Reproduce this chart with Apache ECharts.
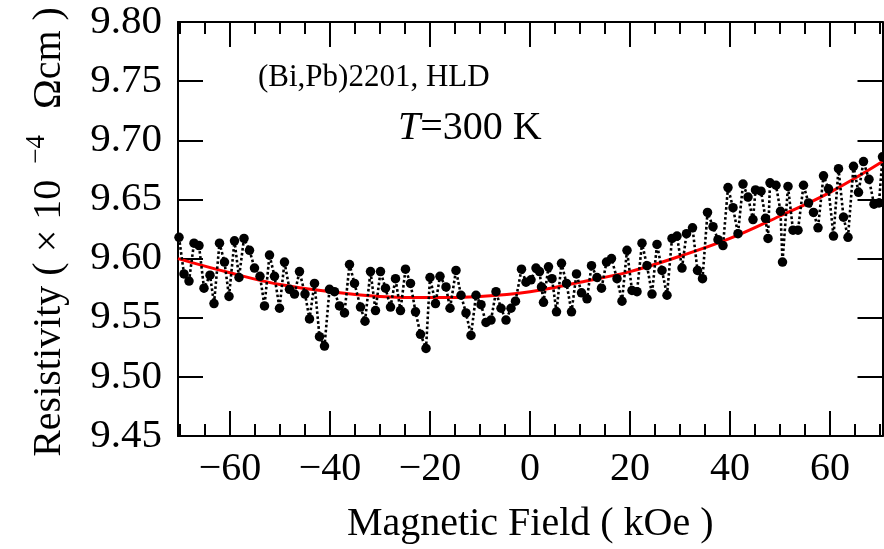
<!DOCTYPE html>
<html><head><meta charset="utf-8">
<script src="https://cdn.jsdelivr.net/npm/echarts@6/dist/echarts.min.js"></script>
<style>html,body{margin:0;padding:0;background:#fff}#c{width:884px;height:549px}</style>
</head><body><div id="c"></div>
<script>
const field = [-70.2,-69.2,-68.2,-67.2,-66.2,-65.2,-64.0,-63.2,-62.1,-61.1,
-60.2,-59.1,-58.2,-57.2,-56.1,-55.1,-54.0,-53.1,-52.1,-51.1,
-50.1,-49.1,-48.1,-47.1,-46.1,-45.0,-44.1,-43.1,-42.1,-41.1,
-40.1,-39.1,-38.1,-37.1,-36.1,-35.1,-33.9,-33.0,-31.9,-30.9,
-29.9,-28.9,-27.9,-26.9,-25.9,-24.9,-23.9,-22.9,-21.9,-20.8,
-20.0,-18.9,-18.0,-16.8,-16.0,-14.8,-13.8,-12.8,-11.8,-10.8,
-9.8,-8.8,-7.8,-6.8,-5.8,-4.8,-3.8,-2.9,-1.7,-0.8,
0.2,1.2,1.9,2.3,2.7,3.7,4.4,5.3,6.3,7.3,
8.3,9.3,10.3,11.4,12.3,13.4,14.3,15.3,16.3,17.4,
18.4,19.4,20.4,21.4,22.4,23.4,24.4,25.4,26.4,27.4,
28.4,29.4,30.4,31.3,32.5,33.5,34.5,35.5,36.6,37.6,
38.6,39.6,40.6,41.6,42.6,43.6,44.6,45.1,46.2,47.1,
47.6,48.0,49.2,50.1,50.5,51.6,52.6,53.6,54.7,55.7,
56.7,57.6,58.7,59.7,60.7,61.7,62.7,63.6,64.7,65.7,
66.7,67.8,68.8,69.8,70.5];
const resistivity = [9.618,9.587,9.581,9.613,9.611,9.575,9.586,9.562,9.613,9.597,
9.568,9.615,9.584,9.617,9.607,9.592,9.585,9.560,9.603,9.585,
9.558,9.597,9.574,9.570,9.589,9.570,9.549,9.579,9.534,9.526,
9.574,9.572,9.560,9.554,9.595,9.579,9.559,9.547,9.589,9.556,
9.589,9.575,9.559,9.583,9.556,9.591,9.579,9.555,9.536,9.524,
9.584,9.562,9.585,9.576,9.558,9.590,9.569,9.554,9.535,9.569,
9.561,9.546,9.548,9.572,9.558,9.548,9.558,9.564,9.591,9.580,
9.582,9.592,9.589,9.576,9.563,9.593,9.583,9.555,9.596,9.579,
9.555,9.587,9.571,9.566,9.594,9.584,9.575,9.597,9.600,9.583,
9.564,9.607,9.573,9.572,9.613,9.594,9.570,9.612,9.590,9.569,
9.617,9.619,9.592,9.621,9.626,9.590,9.583,9.639,9.627,9.616,
9.611,9.660,9.643,9.621,9.663,9.652,9.633,9.658,9.657,9.634,
9.617,9.664,9.662,9.640,9.597,9.661,9.624,9.624,9.662,9.647,
9.639,9.626,9.670,9.659,9.619,9.676,9.635,9.618,9.678,9.656,
9.682,9.667,9.646,9.647,9.686];
const fitField = [-70.4,-60,-50,-40,-30,-20,-10,0,10,20,30,40,50,60,70.5];
const fitResistivity = [9.600,9.588,9.578,9.572,9.568,9.567,9.568,9.572,9.580,9.589,9.602,9.617,9.636,9.656,9.682];
const xMajorTicks = [-60,-40,-20,0,20,40,60];
const xMinorTicks = [-70,-65,-55,-50,-45,-35,-30,-25,-15,-10,-5,5,10,15,25,30,35,45,50,55,65,70];
const yTickLabels = [9.45,9.50,9.55,9.60,9.65,9.70,9.75,9.80];

const FONT = 'Liberation Serif';
const X_MIN = -70.4, X_MAX = 70.5;
const blk = {color:'#000', width:2};
function xAxisDef(pos, ticks, len, showLabel, showLine){
  return {type:'value', position:pos, min:X_MIN, max:X_MAX,
    axisLine:{show:showLine, onZero:false, lineStyle:blk},
    axisTick:{show:true, inside:true, length:len, customValues:ticks, lineStyle:blk},
    axisLabel:{show:showLabel, customValues:ticks, fontFamily:FONT, fontSize:40, color:'#000', margin:13,
      formatter:v=>String(v).replace('-','\u2212')},
    splitLine:{show:false}};
}
function yAxisDef(pos, showLabel){
  return {type:'value', position:pos, min:yTickLabels[0], max:yTickLabels[yTickLabels.length-1], interval:0.05,
    axisLine:{show:true, onZero:false, lineStyle:blk},
    axisTick:{show:true, inside:true, length:25, lineStyle:blk},
    axisLabel:{show:showLabel, fontFamily:FONT, fontSize:41, color:'#000', margin:16,
      formatter:v=>v.toFixed(2)},
    splitLine:{show:false}};
}
const chart = echarts.init(document.getElementById('c'), null, {renderer:'canvas'});
const xb = xAxisDef('bottom', xMajorTicks, 25, true, true);
xb.name = 'Magnetic Field ( kOe )';
xb.nameLocation = 'middle';
xb.nameGap = 68;
xb.nameTextStyle = {fontFamily:FONT, fontSize:40, color:'#000'};
chart.setOption({
  animation:false,
  backgroundColor:'#fff',
  grid:{left:178, right:1.5, top:22, bottom:101, containLabel:false},
  xAxis:[xb, xAxisDef('bottom', xMinorTicks, 12, false, false),
         xAxisDef('top', xMajorTicks, 25, false, true), xAxisDef('top', xMinorTicks, 12, false, false)],
  yAxis:[yAxisDef('left', true), yAxisDef('right', false)],
  series:[
    {type:'line', name:'data', xAxisIndex:0, yAxisIndex:0,
      data: field.map((f,i)=>[f, resistivity[i]]),
      symbol:'circle', symbolSize:9.5, itemStyle:{color:'#000'},
      lineStyle:{color:'#000', width:2.6, type:[2.6,2.4]}, clip:true, z:3},
    {type:'line', name:'fit', xAxisIndex:0, yAxisIndex:0,
      data: fitField.map((f,i)=>[f, fitResistivity[i]]),
      smooth:0.4, symbol:'none', lineStyle:{color:'#ff0000', width:3}, clip:true, z:2}
  ],
  graphic:[
    {type:'text', x:258, y:78, style:{text:'(Bi,Pb)2201, HLD', fontFamily:FONT, fontSize:31, fill:'#000', verticalAlign:'middle'}},
    {type:'text', x:398, y:128, style:{text:'{i|T}{n|=300 K}', fontFamily:FONT, fontSize:40, fill:'#000', verticalAlign:'middle',
      rich:{i:{fontFamily:FONT, fontSize:40, fontStyle:'italic'}, n:{fontFamily:FONT, fontSize:40}}}},
    {type:'text', x:46, y:232, rotation:Math.PI/2,
      style:{text:'{a|Resistivity ( \u00d7 10 }{s|\u22124}{a|  \u03a9cm )}', align:'center', verticalAlign:'middle',
        fill:'#000', rich:{a:{fontFamily:FONT, fontSize:40, verticalAlign:'bottom', lineHeight:46},
          s:{fontFamily:FONT, fontSize:27, verticalAlign:'bottom', lineHeight:46, padding:[0,6,19,6]}}}}
  ]
});
</script></body></html>
